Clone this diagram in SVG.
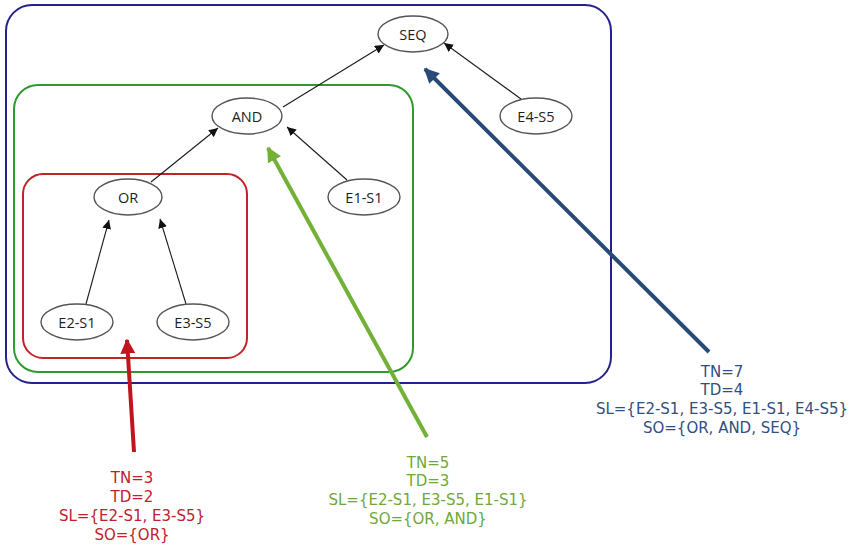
<svg xmlns="http://www.w3.org/2000/svg" width="849" height="547" viewBox="0 0 849 547">
  <style>
    .node ellipse { fill: #ffffff; stroke: #555555; stroke-width: 1.4; }
    .node text { font-family: "Open Sans", "Liberation Sans", sans-serif; font-size: 14.5px; fill: #1e1e1e; text-anchor: middle; dominant-baseline: central; }
    .edge { stroke: #1a1a1a; stroke-width: 1.1; fill: none; marker-end: url(#tip); }
    .info { font-family: "DejaVu Sans", Verdana, sans-serif; font-size: 15px; text-anchor: middle; }
  </style>
  <defs>
    <marker id="tip" viewBox="0 0 10 10" refX="10" refY="5" markerWidth="9" markerHeight="9" markerUnits="userSpaceOnUse" orient="auto">
      <path d="M0,0 L10,5 L0,10 z" fill="#111111"/>
    </marker>
    <marker id="tipRed" viewBox="0 0 10 10" refX="9" refY="5" markerWidth="15" markerHeight="15" markerUnits="userSpaceOnUse" orient="auto">
      <path d="M0,0 L10,5 L0,10 z" fill="#c0141e"/>
    </marker>
    <marker id="tipGreen" viewBox="0 0 10 10" refX="9" refY="5" markerWidth="15" markerHeight="15" markerUnits="userSpaceOnUse" orient="auto">
      <path d="M0,0 L10,5 L0,10 z" fill="#72b036"/>
    </marker>
    <marker id="tipBlue" viewBox="0 0 10 10" refX="9" refY="5" markerWidth="15" markerHeight="15" markerUnits="userSpaceOnUse" orient="auto">
      <path d="M0,0 L10,5 L0,10 z" fill="#274a78"/>
    </marker>
  </defs>
  <rect width="849" height="547" fill="#ffffff"/>

  <!-- scope frames -->
  <g id="frames" fill="none">
    <rect x="6" y="5" width="605" height="378" rx="26" stroke="#22228a" stroke-width="2"/>
    <rect x="14" y="85" width="399" height="287" rx="24" stroke="#2e9a2e" stroke-width="2"/>
    <rect x="23" y="174" width="224" height="184" rx="20" stroke="#c42128" stroke-width="2"/>
  </g>

  <!-- tree edges -->
  <g id="connectors">
    <line class="edge" x1="283" y1="107" x2="384" y2="45"/>
    <line class="edge" x1="521" y1="99" x2="444" y2="43"/>
    <line class="edge" x1="151" y1="182" x2="218" y2="128"/>
    <line class="edge" x1="347" y1="180" x2="287" y2="127"/>
    <line class="edge" x1="86" y1="304" x2="109" y2="220"/>
    <line class="edge" x1="186" y1="304" x2="160" y2="219"/>
    <line x1="134" y1="452" x2="127" y2="340" stroke="#c0141e" stroke-width="4" marker-end="url(#tipRed)"/>
    <line x1="427" y1="437" x2="268" y2="148" stroke="#72b036" stroke-width="4" marker-end="url(#tipGreen)"/>
    <line x1="709" y1="352" x2="425" y2="69" stroke="#274a78" stroke-width="4" marker-end="url(#tipBlue)"/>
  </g>

  <g id="n-seq" class="node"><ellipse cx="413" cy="34" rx="35" ry="18"/><text x="413" y="34">SEQ</text></g>
  <g id="n-and" class="node"><ellipse cx="247" cy="116" rx="35" ry="18"/><text x="247" y="116">AND</text></g>
  <g id="n-or" class="node"><ellipse cx="128" cy="197" rx="34" ry="18"/><text x="128" y="197">OR</text></g>
  <g id="n-e1s1" class="node"><ellipse cx="364" cy="197" rx="36" ry="18"/><text x="364" y="197">E1-S1</text></g>
  <g id="n-e2s1" class="node"><ellipse cx="77" cy="322" rx="36" ry="18"/><text x="77" y="322">E2-S1</text></g>
  <g id="n-e3s5" class="node"><ellipse cx="193" cy="322" rx="36" ry="18"/><text x="193" y="322">E3-S5</text></g>
  <g id="n-e4s5" class="node"><ellipse cx="536" cy="116" rx="36" ry="18"/><text x="536" y="116">E4-S5</text></g>

  <!-- scope statistics -->
  <g id="info-red" class="info" fill="#c0202a">
    <text x="132" y="483">TN=3</text>
    <text x="132" y="502">TD=2</text>
    <text x="132" y="521">SL={E2-S1, E3-S5}</text>
    <text x="132" y="540">SO={OR}</text>
  </g>
  <g id="info-green" class="info" fill="#6fa83a">
    <text x="428" y="468">TN=5</text>
    <text x="428" y="486">TD=3</text>
    <text x="428" y="505">SL={E2-S1, E3-S5, E1-S1}</text>
    <text x="428" y="524">SO={OR, AND}</text>
  </g>
  <g id="info-blue" class="info" fill="#2f4f7f">
    <text x="722" y="377">TN=7</text>
    <text x="722" y="395">TD=4</text>
    <text x="722" y="414">SL={E2-S1, E3-S5, E1-S1, E4-S5}</text>
    <text x="722" y="433">SO={OR, AND, SEQ}</text>
  </g>
</svg>
